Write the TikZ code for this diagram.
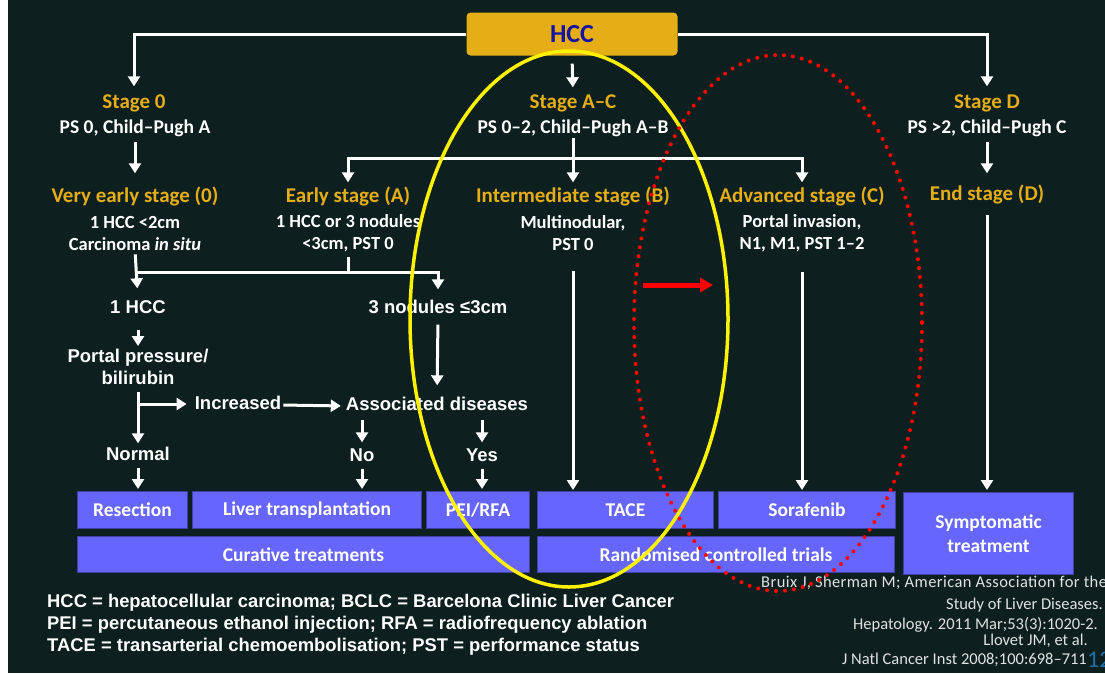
\documentclass[tikz,border=0pt]{standalone}
\usepackage{fontspec}
\setmainfont{Carlito}
\newfontfamily\arialfont{Liberation Sans}
\newfontfamily\citespaced{Carlito}[LetterSpace=2.5]
\usetikzlibrary{arrows.meta}
\definecolor{bg}{HTML}{0D1F1F}
\definecolor{gold}{HTML}{E6AE16}
\definecolor{boxblue}{HTML}{6666FF}
\definecolor{boxedge}{HTML}{4040A8}
\definecolor{hccblue}{HTML}{1414A0}
\definecolor{numblue}{HTML}{1F6FA8}
\definecolor{cite}{HTML}{E2E2E2}
\begin{document}
\begin{tikzpicture}[x=1pt,y=-1pt,
  hccbox/.style={fill=gold,rounded corners=4pt,minimum width=211pt,minimum height=43pt,inner sep=0pt,text=hccblue,font=\bfseries\fontsize{26}{30}\selectfont},
  stg/.style={text=gold,font=\bfseries\fontsize{21}{24}\selectfont,inner sep=0pt,text height=15pt,text depth=4pt},
  ps/.style={text=white,font=\bfseries\fontsize{19.5}{22}\selectfont,inner sep=0pt,text height=14pt,text depth=4pt},
  det/.style={text=white,font=\bfseries\fontsize{18.5}{22}\selectfont,inner sep=0pt,align=center},
  arl/.style={text=white,font=\arialfont\bfseries\fontsize{18.5}{22}\selectfont,inner sep=0pt,align=center,text height=13pt,text depth=4pt},
  arlm/.style={text=white,font=\arialfont\bfseries\fontsize{18.5}{22}\selectfont,inner sep=0pt,align=center},
  tb/.style={fill=boxblue,draw=boxedge,line width=1pt,text=white,font=\bfseries\fontsize{19.5}{24}\selectfont,inner sep=0pt,anchor=north west,align=center},
  ln/.style={draw=white,line width=3pt},
  arr/.style={draw=white,line width=3pt,-{Triangle[width=12pt,length=10pt]}},
  foot/.style={text=white,font=\arialfont\bfseries\fontsize{18.4}{22}\selectfont,inner sep=0pt,align=left,anchor=west},
  cit/.style={text=cite,font=\fontsize{16.5}{18}\selectfont,inner sep=0pt}
]
\useasboundingbox (0,0) rectangle (1105,673);
\fill[white] (0,0) rectangle (8,673);
\fill[bg] (8,0) rectangle (1105,673);

% ---------- top ----------
\node[hccbox] (hcc) at (572,34) {HCC};

\node[stg] (s0) at (134,103) {Stage 0};
\node[ps] (s0p) at (135,128) {PS 0, Child–Pugh A};
\node[stg] (sac) at (573,103) {Stage A–C};
\node[ps] (sacp) at (573,128) {PS 0–2, Child–Pugh A–B};
\node[stg] (sd) at (987,103) {Stage D};
\node[ps] (sdp) at (987,128) {PS >2, Child–Pugh C};

\node[stg] (ve) at (135,197) {Very early stage (0)};
\node[det] (ved) at (135,233) {1 HCC <2cm\\Carcinoma \textit{in situ}};
\node[stg] (ea) at (348,197) {Early stage (A)};
\node[det] (ead) at (348,233) {1 HCC or 3 nodules\\<3cm, PST 0};
\node[stg] (ib) at (573,197) {Intermediate stage (B)};
\node[det] (ibd) at (573,233) {Multinodular,\\PST 0};
\node[stg] (ac) at (802,197) {Advanced stage (C)};
\node[det] (acd) at (802,233) {Portal invasion,\\N1, M1, PST 1–2};
\node[stg] (ed) at (987,195) {End stage (D)};

% ---------- left decision tree ----------
\node[arl] (hcc1) at (138,309) {1 HCC};
\node[arl] (nod3) at (438,309) {3 nodules ≤3cm};
\node[arlm] (portal) at (138,367) {Portal pressure/\\bilirubin};
\node[arl] (incr) at (238,405) {Increased};
\node[arl] (assoc) at (437,406) {Associated diseases};
\node[arl] (normal) at (138,456) {Normal};
\node[arl] (no) at (362,457) {No};
\node[arl] (yes) at (482,457) {Yes};

% ---------- treatment boxes ----------
\node[tb,minimum width=110pt,minimum height=37pt] (res) at (77,491) {Resection};
\node[tb,minimum width=229pt,minimum height=37pt] (lt) at (192,491) {Liver transplantation};
\node[tb,minimum width=103pt,minimum height=37pt] (pei) at (426,491) {PEI/RFA};
\node[tb,minimum width=176pt,minimum height=37pt] (tace) at (537,491) {TACE};
\node[tb,minimum width=177pt,minimum height=37pt] (sor) at (718,491) {Sorafenib};
\node[tb,minimum width=170pt,minimum height=82pt] (sym) at (903,492) {Symptomatic\\treatment};
\node[tb,minimum width=452pt,minimum height=36pt] (cur) at (77,536) {Curative treatments};
\node[tb,minimum width=357pt,minimum height=36pt] (rct) at (537,536) {Randomised controlled trials};

% ---------- connectors ----------
\draw[arr,shorten >=7pt] (hcc.west) -| (s0.north);
\draw[arr,shorten >=7pt] (hcc.east) -| (sd.north);
\draw[arr,shorten <=8pt,shorten >=6pt] (hcc.south) -- (sac.north);
\draw[arr,shorten <=5pt,shorten >=14pt] (s0p.south) -- (ve.north);
\draw[arr,shorten <=5pt,shorten >=12pt] (sdp.south) -- (ed.north);
\coordinate (bar1) at (573,158);
\draw[ln,shorten <=1pt] (sacp.south) -- (bar1);
\draw[arr,shorten >=5pt] (bar1) -- (ib.north);
\draw[arr,shorten >=5pt] (bar1) -| (ea.north);
\draw[arr,shorten >=5pt] (bar1) -| (ac.north);

\coordinate (bar2) at (135,272);
\draw[arr,shorten <=4pt,shorten >=12pt] (ved.south) -- (hcc1.north);
\draw[ln,shorten <=5pt] (ead.south) -- (ead.south |- bar2);
\draw[arr,shorten >=11pt] (bar2) -| (nod3.north);
\draw[arr,shorten <=12pt,shorten >=3pt] (hcc1.south) -- (portal.north);
\draw[arr,shorten <=7pt,shorten >=12pt] (nod3.south) -- (assoc.north);
\coordinate (bar3) at (138,404);
\draw[arr,shorten <=7pt,shorten >=4pt] (portal.south) -- (normal.north);
\draw[arr,shorten >=8pt] (bar3) -- (incr.west |- bar3);
\draw[arr,shorten <=2pt,shorten >=5pt] (incr.east) -- (assoc.west);
\draw[arr,shorten <=5pt,shorten >=6pt] (no.north |- assoc.south) -- (no.north);
\draw[arr,shorten <=5pt,shorten >=6pt] (yes.north |- assoc.south) -- (yes.north);
\draw[arr,shorten <=3pt,shorten >=2pt] (normal.south) -- (normal.south |- res.north);
\draw[arr,shorten <=3pt,shorten >=2pt] (no.south) -- (no.south |- lt.north);
\draw[arr,shorten <=3pt,shorten >=2pt] (yes.south) -- (yes.south |- pei.north);

\draw[arr,shorten <=20pt,shorten >=1pt] (ibd.south) -- (ibd.south |- tace.north);
\draw[arr,shorten <=20pt,shorten >=1pt] (acd.south) -- (acd.south |- sor.north);
\draw[arr,shorten <=10pt,shorten >=2pt] (ed.south) -- (ed.south |- sym.north);

% ---------- footnotes ----------
\node[foot] (fn) at (47,625) {HCC = hepatocellular carcinoma; BCLC = Barcelona Clinic Liver Cancer\\PEI = percutaneous ethanol injection; RFA = radiofrequency ablation\\TACE = transarterial chemoembolisation; PST = performance status};

\node[cit,anchor=west,font=\citespaced\fontsize{16.5}{18}\selectfont] (c1) at (761,583) {Bruix J, Sherman M; American Association for the};
\node[cit,anchor=east] (c2) at (1103,605) {Study of Liver Diseases.};
\node[cit,anchor=west] (c3) at (853,625) {Hepatology. 2011 Mar;53(3):1020-2.};
\node[cit,anchor=east] (c4) at (1088,641) {Llovet JM, et al.};
\node[cit,anchor=east] (c5) at (1087,660) {J Natl Cancer Inst 2008;100:698–711};
\node[text=numblue,font=\fontsize{24}{26}\selectfont,inner sep=0pt,anchor=west] (pg) at (1087,660) {12};

% ---------- highlights ----------
\draw[red,line width=5pt,-{Triangle[width=14pt,length=13pt]}] (643,285) -- (713,285);
\draw[yellow,line width=3.5pt] (569,319) ellipse [x radius=159, y radius=268];
\draw[red,line width=4pt,line cap=round,dash pattern=on 0pt off 9pt] (778,323) ellipse [x radius=144, y radius=268];
\end{tikzpicture}
\end{document}
